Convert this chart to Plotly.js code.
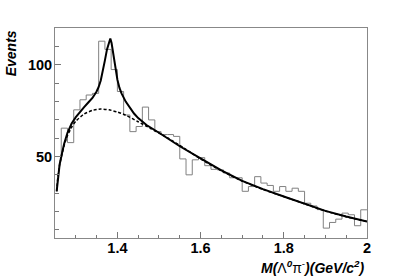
<!DOCTYPE html>
<html>
<head>
<meta charset="utf-8">
<script src="https://cdn.plot.ly/plotly-3.0.1.min.js"></script>
<style>html,body{margin:0;padding:0;background:#fff;}#chart{width:407px;height:280px;}</style>
</head>
<body>
<div id="chart"></div>
<script>
// Histogram: 50 bins of 0.015 GeV/c^2 from 1.25 to 2.00
const binLow = 1.25;
const binWidth = 0.015;
const counts = [50, 65.5, 57.6, 75.5, 81, 83.6, 84.5, 113, 108.5, 97.5,
                85.5, 72.7, 63.6, 66.4, 77, 70, 63.6, 62, 62, 61,
                48.7, 40, 48.2, 49.4, 45, 43, 42.7, 41, 38.4, 38.4,
                31, 33.6, 39, 35.5, 34.2, 31, 33.6, 31, 32.7, 31,
                24.5, 23, 21, 10.9, 14, 15.8, 19.1, 18.2, 12.2, 20.9];

// Fit curve (signal + background)
const fitX = [1.254, 1.257, 1.261, 1.266, 1.272, 1.28, 1.29, 1.30, 1.31, 1.32, 1.33, 1.34, 1.35, 1.355, 1.36, 1.365, 1.37, 1.375, 1.38, 1.383, 1.386, 1.39, 1.395, 1.40, 1.405, 1.41, 1.42, 1.43, 1.44, 1.45, 1.47, 1.50, 1.55, 1.60, 1.65, 1.70, 1.75, 1.80, 1.85, 1.90, 1.95, 2.00];
const fitY = [31, 39, 45.5, 51, 57, 63, 68, 71.5, 74.5, 77, 79.5, 82, 85.5, 88, 91.5, 96.5, 102.5, 108.5, 113, 114.5, 112, 105.5, 98, 92, 87.5, 84.5, 80, 76.5, 73.5, 71, 67.2, 63, 55.6, 49, 42.4, 36.7, 32.2, 28.2, 24.3, 20.3, 17.2, 14.5];

// Background curve
const bkgX = [1.254, 1.257, 1.261, 1.266, 1.272, 1.28, 1.29, 1.30, 1.32, 1.34, 1.36, 1.38, 1.40, 1.42, 1.45, 1.48, 1.52, 1.56, 1.60, 1.65, 1.70, 1.75, 1.80, 1.85, 1.90, 1.95, 2.00];
const bkgY = [31, 39, 45.3, 50.5, 56, 61.5, 66, 69.3, 73.2, 75.2, 75.9, 75.5, 74.3, 72.6, 69, 65.3, 60.3, 54.6, 48.7, 42.2, 36.6, 32.0, 28.1, 24.2, 20.2, 17.1, 14.5];

const xTickVals = [1.4, 1.6, 1.8, 2.0];
const xTickText = ['1.4', '1.6', '1.8', '2'];
const yTickVals = [50, 100];
const yTickText = ['50', '100'];

// step path from bins
const stepX = counts.map((c, i) => binLow + i * binWidth);
stepX.push(binLow + counts.length * binWidth);
const stepY = counts.slice();
stepY.push(counts[counts.length - 1]);

const font = {family: 'Liberation Sans, Arial, sans-serif', size: 14.5, color: '#000', weight: 'bold'};

const traces = [
  {x: stepX, y: stepY, type: 'scatter', mode: 'lines', line: {shape: 'hv', color: '#808080', width: 1}, hoverinfo: 'skip'},
  {x: bkgX, y: bkgY, type: 'scatter', mode: 'lines', line: {shape: 'spline', smoothing: 0.6, color: '#000', width: 1.5, dash: '3px,2px'}, hoverinfo: 'skip'},
  {x: fitX, y: fitY, type: 'scatter', mode: 'lines', line: {shape: 'linear', color: '#000', width: 2}, hoverinfo: 'skip'}
];

const layout = {
  width: 407, height: 280,
  margin: {l: 55, r: 40, t: 28, b: 42, pad: 0},
  paper_bgcolor: '#fff', plot_bgcolor: '#fff',
  showlegend: false,
  xaxis: {
    range: [1.25, 2.0001], showgrid: false, zeroline: false,
    showline: true, linecolor: '#888', linewidth: 1, mirror: true,
    ticks: 'inside', ticklen: 6, tickcolor: '#777', tickwidth: 1,
    tickvals: xTickVals, ticktext: xTickText, tickfont: font, ticklabelstandoff: -3,
    minor: {ticks: 'inside', tick0: 1.25, dtick: 0.05, ticklen: 3, tickcolor: '#777', tickwidth: 1, showgrid: false}
  },
  yaxis: {
    range: [5.5, 120.2], showgrid: false, zeroline: false,
    showline: true, linecolor: '#888', linewidth: 1, mirror: true,
    ticks: 'inside', ticklen: 6, tickcolor: '#777', tickwidth: 1,
    tickvals: yTickVals, ticktext: yTickText, tickfont: font, ticklabelstandoff: -1,
    minor: {ticks: 'inside', tick0: 0, dtick: 10, ticklen: 4, tickcolor: '#777', tickwidth: 1, showgrid: false}
  },
  annotations: [
    {text: '<b><i>Events</i></b>', xref: 'paper', yref: 'paper', x: -0.14, y: 1.0,
     xanchor: 'center', yanchor: 'top', textangle: -90, showarrow: false,
     font: {family: 'Liberation Sans, Arial, sans-serif', size: 14, color: '#000'}},
    {text: '<b><i>M(</i></b>Λ<sup><b><i>0</i></b></sup>π<sup>-</sup><b><i>)(GeV/c</i></b><sup><b><i>2</i></b></sup><b><i>)</i></b>',
     xref: 'paper', yref: 'paper', x: 1.0, y: -0.14, xanchor: 'right', yanchor: 'middle', showarrow: false,
     font: {family: 'Liberation Sans, Arial, sans-serif', size: 14, color: '#000'}}
  ]
};

Plotly.newPlot('chart', traces, layout, {staticPlot: true, displayModeBar: false});
</script>
</body>
</html>
